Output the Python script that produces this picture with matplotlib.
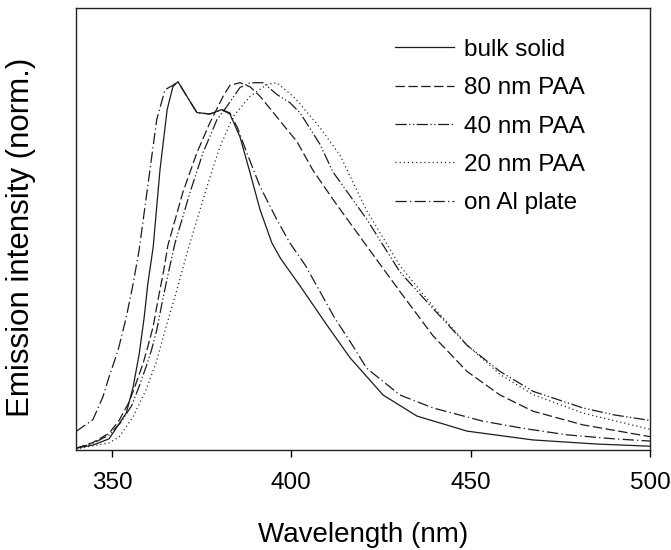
import matplotlib
matplotlib.use("Agg")
import matplotlib.pyplot as plt

# ---------------------------------------------------------------------
# Data (normalised emission)
# ---------------------------------------------------------------------
bulk_x = [340, 344.7, 349.2, 354, 355.9, 357.6, 359, 360, 361.5, 363.4, 365.4, 367,
          368.4, 370.9, 373.7, 377.3, 380.6, 382.9, 385.7, 388.5, 391.3, 394.6, 397,
          402.4, 410, 416.4, 425.6, 435, 449, 467.4, 485, 500]
bulk_y = [0.005, 0.013, 0.03, 0.10, 0.17, 0.26, 0.36, 0.45, 0.55, 0.76, 0.924, 0.986,
          1.0, 0.96, 0.916, 0.912, 0.924, 0.912, 0.85, 0.753, 0.652, 0.562, 0.52,
          0.446, 0.338, 0.25, 0.149, 0.092, 0.051, 0.027, 0.016, 0.01]

paa80_x = [340, 344.7, 349.2, 352, 354.8, 356.7, 358.7, 360, 361.5, 363.1, 364.5, 365.6,
           369.8, 373.7, 377.3, 381, 382.9, 385.7, 388.5, 391.3, 395, 398.8, 401.6,
           406, 412, 421, 430.3, 439.5, 449, 458.2, 467.4, 481.3, 500]
paa80_y = [0.004, 0.02, 0.045, 0.08, 0.13, 0.18, 0.235, 0.28, 0.335, 0.42, 0.49, 0.555,
           0.70, 0.807, 0.888, 0.96, 0.99, 0.997, 0.986, 0.96, 0.916, 0.87, 0.837,
           0.76, 0.675, 0.554, 0.43, 0.31, 0.213, 0.149, 0.105, 0.068, 0.036]

paa40_x = [340, 344.7, 349.2, 352.5, 355.5, 357.5, 359.5, 361, 362.5, 364, 365.5, 367.6,
           371.8, 375.4, 379.3, 382, 385.7, 388.5, 392.2, 396, 399.6, 402.4, 408,
           411.6, 421, 430.3, 439.5, 449, 458.2, 467.4, 481.3, 490, 500]
paa40_y = [0.004, 0.018, 0.04, 0.075, 0.12, 0.17, 0.225, 0.27, 0.325, 0.4, 0.47, 0.562,
           0.70, 0.807, 0.897, 0.932, 0.984, 0.997, 0.997, 0.965, 0.943, 0.916, 0.83,
           0.755, 0.627, 0.483, 0.384, 0.284, 0.213, 0.159, 0.114, 0.095, 0.08]

paa20_x = [340, 343.9, 349.2, 352, 355.9, 359.5, 362.3, 365.1, 367.9, 371.2, 376.5,
           380.1, 383.8, 388.5, 393.2, 396, 400.5, 402.4, 408, 413.6, 421, 430.3,
           439.5, 449, 458.2, 467.4, 481.3, 500]
paa20_y = [0.002, 0.01, 0.019, 0.035, 0.09, 0.163, 0.236, 0.334, 0.427, 0.543, 0.715,
           0.823, 0.905, 0.96, 0.992, 0.997, 0.96, 0.94, 0.875, 0.80, 0.65, 0.5,
           0.39, 0.285, 0.205, 0.15, 0.1, 0.056]

al_x = [340, 344.7, 347.5, 349.2, 351.7, 354, 355.9, 357.6, 360.6, 362.5, 364.8, 367,
        368.4, 370.9, 373.7, 377.3, 380.6, 382.9, 385, 387.6, 391.3, 396, 399.6, 404,
        408, 412, 417, 421, 430.3, 439.5, 453.4, 465, 476.8, 490, 500]
al_y = [0.05, 0.082, 0.144, 0.198, 0.27, 0.36, 0.45, 0.543, 0.76, 0.897, 0.978, 0.99,
        1.0, 0.96, 0.916, 0.912, 0.924, 0.915, 0.875, 0.807, 0.715, 0.625, 0.562, 0.50,
        0.43, 0.36, 0.285, 0.222, 0.149, 0.114, 0.078, 0.058, 0.041, 0.03, 0.024]

labels = ["bulk solid", "80 nm PAA", "40 nm PAA", "20 nm PAA", "on Al plate"]
x_ticks = [350, 400, 450, 500]

# line styles (dash patterns in points)
STYLES = [
    dict(linestyle="-"),
    dict(linestyle=(0, (7.5, 2.8))),
    dict(linestyle=(0, (9, 2, 1, 2, 1, 2))),
    dict(linestyle=(0, (0.9, 2.4))),
    dict(linestyle=(0, (9, 2.6, 1, 2.6))),
]
LINE_COLOR = "#1c1c1c"

plt.rcParams["font.family"] = ["Liberation Sans", "DejaVu Sans"]

fig = plt.figure(figsize=(6.71, 5.5), dpi=100)
ax = fig.add_axes([0.1133, 0.182, 0.8554, 0.8035])

series = [(bulk_x, bulk_y), (paa80_x, paa80_y), (paa40_x, paa40_y),
          (paa20_x, paa20_y), (al_x, al_y)]
for (xs, ys), lab, st in zip(series, labels, STYLES):
    ax.plot(xs, ys, color=LINE_COLOR, linewidth=0.9, label=lab, **st)

ax.set_xlim(340, 500)
ax.set_ylim(0, 1.2)
ax.set_xticks(x_ticks)
ax.set_yticks([])
ax.tick_params(axis="x", direction="out", length=5, width=1, labelsize=17.5, pad=11)
for sp in ax.spines.values():
    sp.set_linewidth(1.0)
    sp.set_color("#222222")

ax.set_xlabel("Wavelength (nm)", fontsize=20, labelpad=20)
ax.set_ylabel("Emission intensity (norm.)", fontsize=22.5)
ax.yaxis.set_label_coords(-0.07, 0.482)

ax.legend(loc="upper left", bbox_to_anchor=(0.555, 0.93), frameon=False,
          fontsize=17.5, handlelength=2.43, handletextpad=0.41,
          labelspacing=0.67, borderpad=0, borderaxespad=0)

fig.savefig("out.png", dpi=100)
